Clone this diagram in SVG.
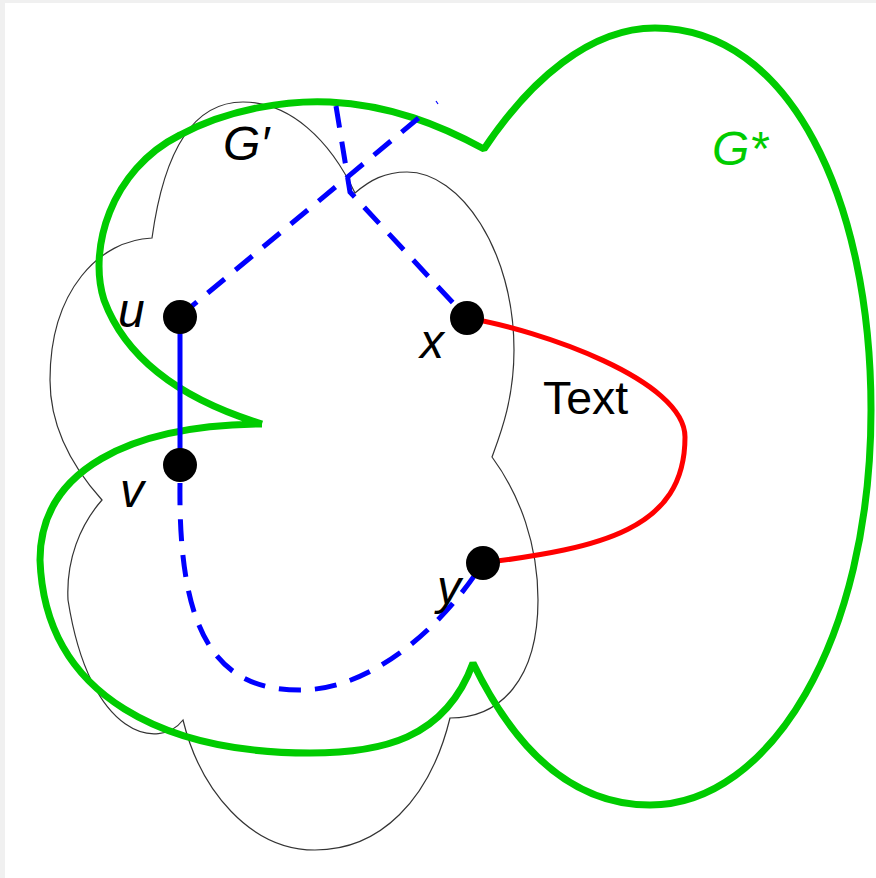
<svg xmlns="http://www.w3.org/2000/svg" width="876" height="878" viewBox="0 0 876 878">
<style>
.cloud{fill:none;stroke:#333;stroke-width:1.2}
.green{fill:none;stroke:#00cc00;stroke-width:7;stroke-linejoin:bevel}
.blue{fill:none;stroke:#0000ff;stroke-width:5}
.dash{stroke-dasharray:22 14}
.red{fill:none;stroke:#ff0000;stroke-width:5}
.dot{fill:#000}
.lbl{font-family:"Liberation Sans",Arial,sans-serif;font-style:italic;font-size:48px;fill:#000}
</style>
<rect x="0" y="0" width="876" height="878" fill="#f0f0f0"/>
<rect x="5" y="3" width="871" height="875" fill="#fff"/>
<g id="Gprime">
<path class="cloud" d="M152,238 C160,180 180,102 243,102 C290,102 330,140 355,193 C370,180 385,172 407,172 C460,172 514,250 514,350 C514,400 500,435 492,457 C520,495 538,545 538,600 C538,680 500,718 450,718 C430,800 380,850 315,850 C250,850 200,790 183,720 C160,750 90,740 68,600 C66,560 80,525 102,500 C75,470 50,430 50,380 C50,290 100,240 152,238 Z"/>
<text class="lbl" x="223" y="160" font-size="42">G′</text>
</g>
<g id="Gstar">
<path class="green" d="M262,424 C200,405 130,370 104,300 C88,250 110,170 180,135 C230,108 290,100 330,102 C390,105 440,125 484,149 C530,80 590,28 655,28 C790,28 871,200 871,410 C871,640 770,805 650,805 C580,805 520,760 473,663 C445,740 380,753 310,753 C170,753 45,700 40,560 C40,470 130,425 262,424"/>
<text class="lbl" x="712" y="165" font-size="44" style="fill:#00cc00">G*</text>
</g>
<g id="connectors">
<line class="blue" x1="180" y1="316" x2="180" y2="481"/>
<line class="blue dash" x1="180" y1="316" x2="421" y2="116"/>
<line x1="436" y1="101" x2="438" y2="104" stroke="#0000ff" stroke-width="1.2"/>
<path class="blue dash" d="M336,106 L350,192 L467,318"/>
<path class="blue dash" d="M180,483 C178,640 220,690 300,690 C370,690 440,630 483,563"/>
<path class="red" d="M467,318 C540,330 685,380 685,437 C685,530 600,548 483,563"/>
</g>
<g id="u"><circle class="dot" cx="180" cy="317" r="17"/><text class="lbl" x="118" y="327">u</text></g>
<g id="v"><circle class="dot" cx="180" cy="465" r="17"/><text class="lbl" x="120" y="507">v</text></g>
<g id="x"><circle class="dot" cx="467" cy="318" r="17"/><text class="lbl" x="420" y="358">x</text></g>
<g id="y"><circle class="dot" cx="483" cy="563" r="17"/><text class="lbl" x="437" y="604">y</text></g>
<g id="label-text"><text x="543" y="414" font-family="Liberation Sans, Arial, sans-serif" font-size="46.5" fill="#000">Text</text></g>
</svg>
